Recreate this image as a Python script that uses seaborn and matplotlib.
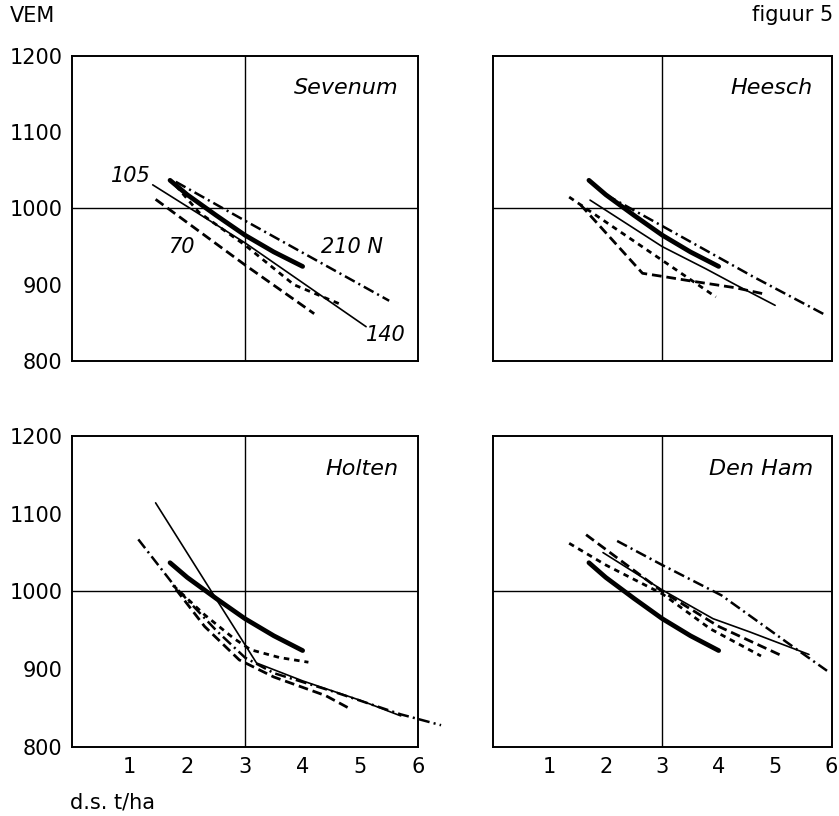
import numpy as np
import pandas as pd
import seaborn as sns
from matplotlib import pyplot as plt

# proefplaatsen, volgorde van de panelen
plaatsen = ["Sevenum", "Heesch", "Holten", "Den Ham"]

# dikke lijn: gemiddelde curve, in ieder paneel gelijk
gem_x = [1.7, 2.0, 2.5, 3.0, 3.5, 4.0]
gem_y = [1037, 1018, 991, 965, 943, 924]

# Sevenum
sev_dun_x = [1.4, 3.0, 5.1]
sev_dun_y = [1031, 955, 845]
sev_lang_x = [1.45, 3.0, 4.2]
sev_lang_y = [1012, 926, 862]
sev_kort_x = [1.8, 2.2, 3.0, 3.85, 4.7]
sev_kort_y = [1030, 995, 952, 900, 873]
sev_stip_x = [1.8, 3.0, 5.5]
sev_stip_y = [1035, 984, 879]

# Heesch
hee_dun_x = [1.72, 3.0, 3.77, 4.3, 5.0]
hee_dun_y = [1011, 950, 921, 900, 873]
hee_lang_x = [1.55, 2.65, 3.0, 3.5, 4.3, 4.8]
hee_lang_y = [1005, 915, 911, 905, 896, 888]
hee_kort_x = [1.35, 3.0, 3.95]
hee_kort_y = [1015, 932, 884]
hee_stip_x = [2.0, 3.0, 4.6, 5.9]
hee_stip_y = [1018, 977, 911, 860]

# Holten
hol_dun_x = [1.45, 3.2, 4.0, 5.0, 5.7]
hol_dun_y = [1114, 908, 885, 860, 840]
hol_lang_x = [1.8, 2.3, 2.9, 3.5, 4.4, 4.85]
hol_lang_y = [1003, 955, 912, 890, 866, 848]
hol_kort_x = [1.75, 2.3, 2.8, 3.1, 3.6, 4.1]
hol_kort_y = [1008, 970, 940, 925, 915, 909]
hol_stip_x = [1.15, 1.8, 2.5, 3.0, 3.5, 4.5, 5.7, 6.4]
hol_stip_y = [1067, 1005, 950, 915, 895, 872, 842, 828]

# Den Ham
dh_dun_x = [1.95, 3.0, 3.9, 4.55, 5.6]
dh_dun_y = [1050, 1002, 965, 948, 919]
dh_lang_x = [1.65, 3.0, 4.0, 5.1]
dh_lang_y = [1073, 1000, 955, 918]
dh_kort_x = [1.35, 2.0, 3.0, 3.85, 4.75]
dh_kort_y = [1062, 1034, 997, 952, 917]
dh_stip_x = [2.2, 3.0, 4.05, 5.2, 5.92]
dh_stip_y = [1065, 1034, 995, 935, 898]

reeksen = {
    "Sevenum": [("dun", sev_dun_x, sev_dun_y), ("lang", sev_lang_x, sev_lang_y),
                ("kort", sev_kort_x, sev_kort_y), ("stip", sev_stip_x, sev_stip_y)],
    "Heesch": [("dun", hee_dun_x, hee_dun_y), ("lang", hee_lang_x, hee_lang_y),
               ("kort", hee_kort_x, hee_kort_y), ("stip", hee_stip_x, hee_stip_y)],
    "Holten": [("dun", hol_dun_x, hol_dun_y), ("lang", hol_lang_x, hol_lang_y),
               ("kort", hol_kort_x, hol_kort_y), ("stip", hol_stip_x, hol_stip_y)],
    "Den Ham": [("dun", dh_dun_x, dh_dun_y), ("lang", dh_lang_x, dh_lang_y),
                ("kort", dh_kort_x, dh_kort_y), ("stip", dh_stip_x, dh_stip_y)],
}

rows = []
for p in plaatsen:
    for x, y in zip(gem_x, gem_y):
        rows.append((p, "gem", x, y))
    for naam, xs, ys in reeksen[p]:
        for x, y in zip(xs, ys):
            rows.append((p, naam, x, y))
df = pd.DataFrame(rows, columns=["plaats", "reeks", "ds", "vem"])

# lijnstijlen
stijl = {
    "gem": dict(lw=3.4, ls="-", solid_capstyle="round"),
    "dun": dict(lw=1.2, ls="-"),
    "lang": dict(lw=2.0, ls=(0, (7, 3.5))),
    "kort": dict(lw=2.0, ls=(0, (4, 3.5))),
    "stip": dict(lw=1.8, ls=(0, (8, 3, 1.5, 3))),
}

sns.set_style("white", {"axes.edgecolor": "black", "text.color": "black",
                        "xtick.color": "black", "ytick.color": "black"})
plt.rcParams["font.family"] = ["DejaVu Sans"]
plt.rcParams["lines.scale_dashes"] = False

fig = plt.figure(figsize=(8.39, 8.16), dpi=100)
posities = {
    "Sevenum": [0.0858, 0.5576, 0.4124, 0.3738],
    "Heesch": [0.5876, 0.5576, 0.4035, 0.3738],
    "Holten": [0.0858, 0.0846, 0.4124, 0.3811],
    "Den Ham": [0.5876, 0.0846, 0.4035, 0.3811],
}

for i, p in enumerate(plaatsen):
    ax = fig.add_axes(posities[p])
    ax.axhline(1000, color="black", lw=1.0)
    ax.axvline(3, color="black", lw=1.0)
    sub = df[df["plaats"] == p]
    for naam in ["dun", "lang", "kort", "stip", "gem"]:
        d = sub[sub["reeks"] == naam]
        sns.lineplot(data=d, x="ds", y="vem", ax=ax, color="black",
                     estimator=None, sort=False, legend=False,
                     clip_on=(p != "Holten"), **stijl[naam])
    ax.set_xlim(0, 6)
    ax.set_ylim(800, 1200)
    ax.set_xlabel("")
    ax.set_ylabel("")
    boven = i < 2
    links = i % 2 == 0
    ax.set_xticks([1, 2, 3, 4, 5] if boven else [1, 2, 3, 4, 5, 6])
    ax.set_yticks([800, 900, 1000, 1100, 1200] if links else [900, 1100])
    ax.tick_params(direction="in", length=5, width=1.2, labelsize=15,
                   labelbottom=not boven, labelleft=links, pad=7, colors="black")
    for s in ax.spines.values():
        s.set_linewidth(1.4)
    ax.text(0.945, 0.895, p, transform=ax.transAxes, ha="right", va="center",
            fontsize=16, style="italic", color="black")

    if p == "Sevenum":
        ax.text(1.02, 1042, "105", ha="center", va="center", fontsize=15, style="italic")
        ax.text(1.89, 950, "70", ha="center", va="center", fontsize=15, style="italic")
        ax.text(4.85, 950, "210 N", ha="center", va="center", fontsize=15, style="italic")
        ax.text(5.45, 834, "140", ha="center", va="center", fontsize=15, style="italic")

fig.text(10 / 839, 1 - 16 / 816, "VEM", ha="left", va="center", fontsize=15, color="black")
fig.text(833 / 839, 1 - 15 / 816, "figuur 5", ha="right", va="center", fontsize=15, color="black")
fig.text(70 / 839, 1 - 803 / 816, "d.s. t/ha", ha="left", va="center", fontsize=15, color="black")

fig.savefig("out.png", dpi=100)
